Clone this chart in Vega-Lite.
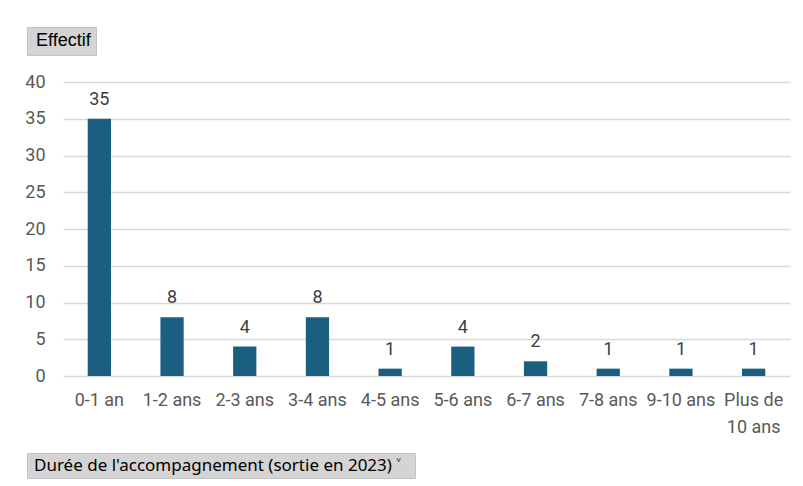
{
  "$schema": "https://vega.github.io/schema/vega-lite/v6.json",
  "width": 727,
  "height": 294,
  "autosize": "none",
  "padding": {"left": 63, "top": 82, "right": 13, "bottom": 110},
  "background": "#ffffff",
  "config": {
    "view": {"stroke": null},
    "font": "Roboto",
    "axis": {"labelFont": "Roboto", "labelFontSize": 18, "labelColor": "#595959", "ticks": false, "domain": false, "title": null},
    "legend": {"orient": "none", "fillColor": "#d4d4d4", "strokeColor": "#c4c4c4", "symbolSize": 0, "symbolStrokeWidth": 0, "title": null, "labelColor": "#000000", "labelLimit": 600}
  },
  "data": {
    "values": [
      {"duree": "0-1 an", "effectif": 35},
      {"duree": "1-2 ans", "effectif": 8},
      {"duree": "2-3 ans", "effectif": 4},
      {"duree": "3-4 ans", "effectif": 8},
      {"duree": "4-5 ans", "effectif": 1},
      {"duree": "5-6 ans", "effectif": 4},
      {"duree": "6-7 ans", "effectif": 2},
      {"duree": "7-8 ans", "effectif": 1},
      {"duree": "9-10 ans", "effectif": 1},
      {"duree": "Plus de 10 ans", "effectif": 1}
    ]
  },
  "encoding": {
    "x": {
      "field": "duree", "type": "nominal", "sort": null,
      "scale": {"paddingInner": 0.68, "paddingOuter": 0.34},
      "axis": {"labelAngle": 0, "labelPadding": 24, "labelLineHeight": 27, "labelBaseline": "middle",
               "labelExpr": "datum.value == 'Plus de 10 ans' ? ['Plus de', '10 ans'] : datum.value"}
    },
    "y": {
      "field": "effectif", "type": "quantitative",
      "scale": {"domain": [0, 40]},
      "axis": {"values": [0, 5, 10, 15, 20, 25, 30, 35, 40], "grid": true, "gridColor": "#d9d9d9", "gridWidth": 1.3, "labelPadding": 18}
    }
  },
  "layer": [
    {
      "mark": {"type": "bar", "strokeWidth": 0},
      "encoding": {
        "fill": {"datum": "Effectif", "scale": {"range": ["#1a5e80"]},
                 "legend": {"legendX": -36, "legendY": -55, "labelFontSize": 18, "labelFont": "Liberation Sans",
                            "padding": 5, "symbolSize": 0, "labelOffset": -14}},
        "stroke": {"datum": "Durée de l'accompagnement (sortie en 2023)", "scale": {"range": ["#1a5e80"]},
                   "legend": {"legendX": -36, "legendY": 371, "labelFontSize": 17, "labelFont": "Noto Sans",
                              "padding": 4, "symbolSize": 0, "labelOffset": -14,
                              "labelExpr": "datum.label + '   \u02c5   '"}}
      }
    },
    {
      "mark": {"type": "text", "baseline": "bottom", "dy": -10, "fontSize": 18, "color": "#404040", "font": "Roboto"},
      "encoding": {"text": {"field": "effectif", "type": "quantitative"}}
    }
  ]
}
